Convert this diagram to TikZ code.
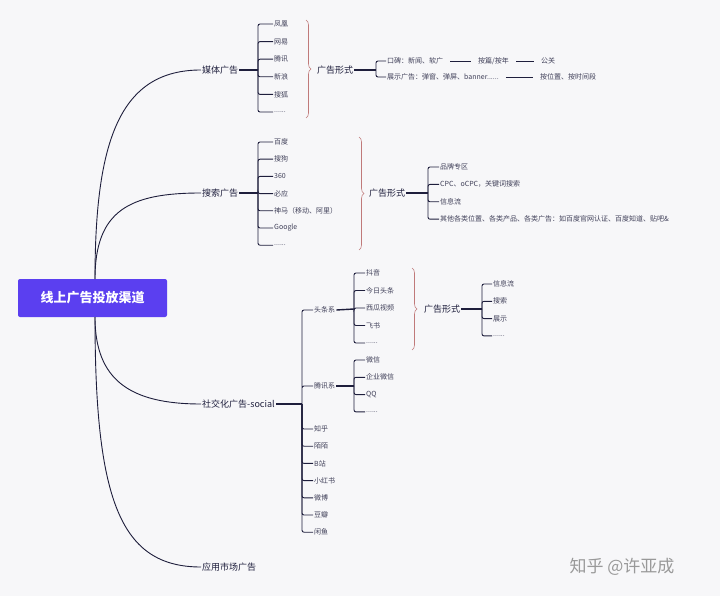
\documentclass[tikz,border=0pt]{standalone}
\usepackage{fontspec}
\setmainfont{Noto Sans CJK SC}
\usetikzlibrary{calc, decorations.pathreplacing}
\definecolor{ink}{HTML}{1E1E3C}
\definecolor{rootbg}{HTML}{5B3FF0}
\definecolor{bracecol}{HTML}{C07A7A}
\definecolor{paper}{HTML}{F7F7F9}
\newcommand{\etc}{......}

\begin{document}
\begin{tikzpicture}[x=1pt,y=-1pt]
\tikzstyle{leaf}=[anchor=west, inner sep=1pt, font=\fontsize{7}{8}\selectfont, text=ink!85]
\tikzstyle{topic}=[anchor=west, inner sep=1pt, font=\fontsize{9}{10}\selectfont, text=ink]
\tikzstyle{link}=[ink, line width=0.9pt, rounded corners=2pt]
\tikzstyle{stem}=[ink, line width=1.4pt]
\tikzstyle{curly}=[bracecol, line width=0.6pt, decorate, decoration={brace, amplitude=5pt}]
  \fill[paper] (0,0) rectangle (720,596);
  \useasboundingbox (0,0) rectangle (720,596);
  % root
  \node[fill=rootbg, text=white, rounded corners=2pt, minimum width=149pt, minimum height=38pt,
        font=\fontsize{13}{14}\selectfont\bfseries] (root) at (92.5,298) {线上广告投放渠道};
  % main branches
  \node[topic] (media) at (201,70) {媒体广告};
  \node[topic] (search) at (201,193) {搜索广告};
  \node[topic] (social) at (201,404) {社交化广告-social};
  \node[topic] (market) at (201,567) {应用市场广告};
  \draw[link] (95,279) .. controls (95,140) and (120,70) .. (media.west);
  \draw[link] (95,279) .. controls (95,210) and (130,193) .. (search.west);
  \draw[link] (95,317) .. controls (95,380) and (130,404) .. (social.west);
  \draw[link] (95,317) .. controls (95,500) and (120,567) .. (market.west);
  % media
  \coordinate (bm) at (258,70);
  \foreach \t [count=\i from 0] in {凤凰,网易,腾讯,新浪,搜狐,\etc}
    \node[leaf] (m\i) at (273,24+17.6*\i) {\t};
  \draw[stem] (media.east) -- (bm);
  \foreach \i in {0,...,5} \draw[link] (bm) |- (m\i.west);
  \draw[curly] (306,20) -- (306,118);
  \node[topic] (mform) at (316,70) {广告形式};
  \coordinate (bf) at (376,70);
  \node[leaf] (ma) at (386,61) {口碑：新闻、软广};
  \node[leaf] (mb) at (386,77) {展示广告：弹窗、弹屏、banner\etc};
  \node[leaf] (ma2) at (477,61) {按篇/按年};
  \node[leaf] (ma3) at (540,61) {公关};
  \node[leaf] (mb2) at (539,77) {按位置、按时间段};
  \draw[stem] (mform.east) -- (bf);
  \draw[link] (bf) |- (ma.west) (bf) |- (mb.west);
  \draw[link] ($(ma.east)+(6,0)$) -- ($(ma2.west)+(-6,0)$);
  \draw[link] ($(ma2.east)+(6,0)$) -- ($(ma3.west)+(-6,0)$);
  \draw[link] ($(mb.east)+(6,0)$) -- ($(mb2.west)+(-6,0)$);
  % search
  \coordinate (bs) at (258,193);
  \foreach \t [count=\i from 0] in {百度,搜狗,360,必应,神马（移动、阿里）,Google,\etc}
    \node[leaf] (s\i) at (273,142+17.2*\i) {\t};
  \draw[stem] (search.east) -- (bs);
  \foreach \i in {0,...,6} \draw[link] (bs) |- (s\i.west);
  \draw[curly] (359,137) -- (359,250);
  \node[topic] (sform) at (368,193) {广告形式};
  \coordinate (bsf) at (428,193);
  \foreach \t [count=\i from 0] in {品牌专区,{CPC、oCPC，关键词搜索},信息流,{其他各类位置、各类产品、各类广告：如百度官网认证、百度知道、贴吧\&}}
    \node[leaf] (sf\i) at (439,167+17.4*\i) {\t};
  \draw[stem] (sform.east) -- (bsf);
  \foreach \i in {0,...,3} \draw[link] (bsf) |- (sf\i.west);
  % social
  \coordinate (bo) at (302,404);
  \node[leaf] (tt) at (313,310) {头条系};
  \node[leaf] (tx) at (313,386) {腾讯系};
  \foreach \t [count=\i from 0] in {知乎,陌陌,B站,小红书,微博,豆瓣,闲鱼}
    \node[leaf] (o\i) at (313,429+17.2*\i) {\t};
  \draw[stem] (social.east) -- (bo);
  \draw[link] (bo) |- (tt.west) (bo) |- (tx.west);
  \foreach \i in {0,...,6} \draw[link] (bo) |- (o\i.west);
  % toutiao
  \coordinate (bt) at (354,309);
  \foreach \t [count=\i from 0] in {抖音,今日头条,西瓜视频,飞书,\etc}
    \node[leaf] (t\i) at (365,273+17.5*\i) {\t};
  \draw[stem] (tt.east) -- (bt);
  \foreach \i in {0,...,4} \draw[link] (bt) |- (t\i.west);
  \draw[curly] (412,268) -- (412,350);
  \node[topic] (tform) at (423,309) {广告形式};
  \coordinate (btf) at (482,309);
  \foreach \t [count=\i from 0] in {信息流,搜索,展示,\etc}
    \node[leaf] (tf\i) at (492,284+17.3*\i) {\t};
  \draw[stem] (tform.east) -- (btf);
  \foreach \i in {0,...,3} \draw[link] (btf) |- (tf\i.west);
  % tencent
  \coordinate (bx) at (354,386);
  \foreach \t [count=\i from 0] in {微信,企业微信,QQ,\etc}
    \node[leaf] (x\i) at (365,360+17.3*\i) {\t};
  \draw[stem] (tx.east) -- (bx);
  \foreach \i in {0,...,3} \draw[link] (bx) |- (x\i.west);
  % watermark
  \node[anchor=west, text=black!40, font=\fontsize{17}{18}\selectfont] (mark) at (566,567) {知乎 @许亚成};
\end{tikzpicture}
\end{document}
